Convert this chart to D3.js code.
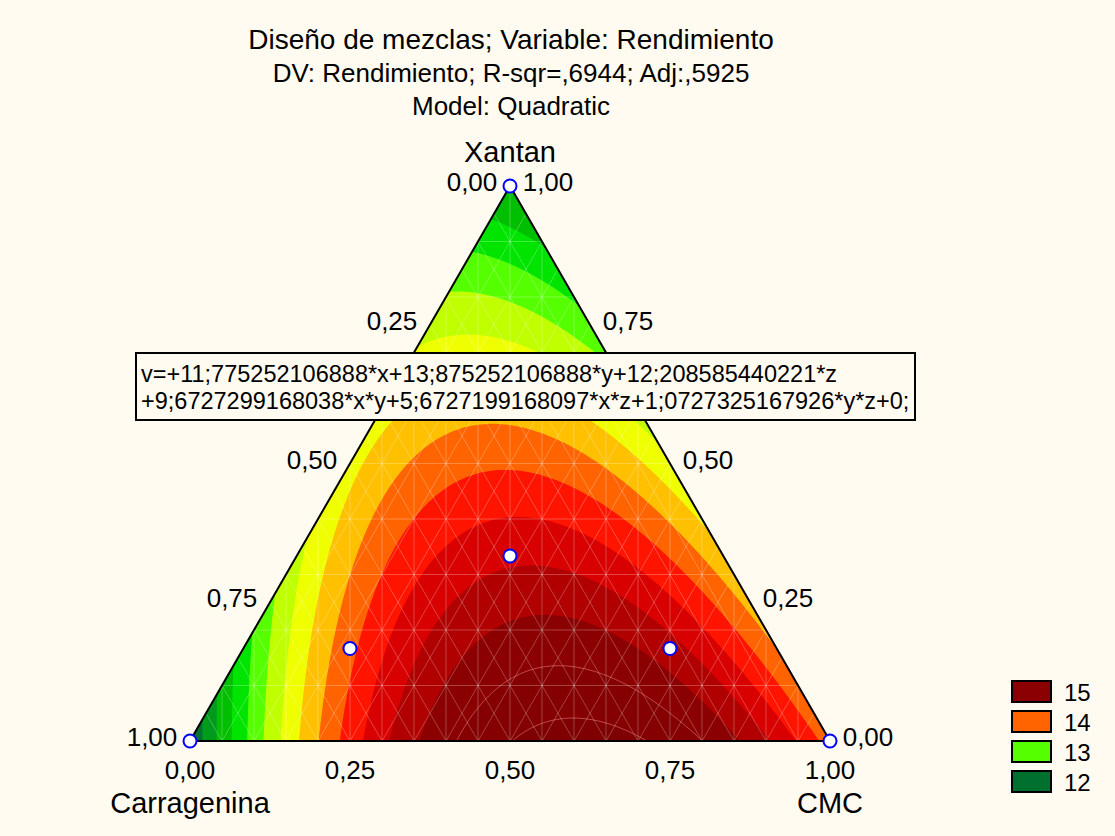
<!DOCTYPE html>
<html>
<head>
<meta charset="utf-8">
<script src="https://cdn.jsdelivr.net/npm/d3@7"></script>
<style>
  html, body { margin: 0; padding: 0; background: #fffbf0; }
  text { font-family: "Liberation Sans", Arial, sans-serif; fill: #000; }
</style>
</head>
<body>
<svg id="chart" width="1115" height="836"></svg>
<script>
// ---- chart content -------------------------------------------------------
const titleLines = [
  "Diseño de mezclas; Variable: Rendimiento",
  "DV: Rendimiento; R-sqr=,6944; Adj:,5925",
  "Model: Quadratic"
];
const titleSizes = [28, 26, 26];
const componentNames = ["Carragenina", "CMC", "Xantan"];   // x, y, z of the model

// Quadratic Scheffé model: v = b1*x + b2*y + b3*z + b12*x*y + b13*x*z + b23*y*z
const linearCoef = [11.775252106888, 13.875252106888, 12.208585440221];
const interactionCoef = [9.6727299168038, 5.6727199168097, 1.0727325167926]; // xy, xz, yz

const equationLines = [
  "v=+11;775252106888*x+13;875252106888*y+12;208585440221*z",
  "+9;6727299168038*x*y+5;6727199168097*x*z+1;0727325167926*y*z+0;"
];

// contour bands: lower limit of each band and its fill
const bandLower = [11.75, 12, 12.25, 12.5, 12.75, 13, 13.25, 13.5, 13.75, 14, 14.25, 14.5, 14.75, 15, 15.25];
const bandColors = ["#00702f", "#009a1c", "#00be00", "#00e400", "#55ff00", "#c0ff00", "#f0ff00",
                    "#ffc000", "#ff6400", "#ff1400", "#d80000", "#b00000", "#8b0000", "#850000", "#7e0000"];

const legendValues = [15, 14, 13, 12];
const legendColors = ["#8b0000", "#ff6400", "#55ff00", "#00702f"];

const tickValues = [0, 0.25, 0.5, 0.75, 1];
const tickFormat = v => v.toFixed(2).replace(".", ",");

// design points as [Carragenina, CMC, Xantan]
const designPoints = [
  [1, 0, 0], [0, 1, 0], [0, 0, 1],
  [1/3, 1/3, 1/3],
  [2/3, 1/6, 1/6], [1/6, 2/3, 1/6], [1/6, 1/6, 2/3]
];

// ---- geometry --------------------------------------------------------------
const svg = d3.select("#chart");
const sx = d3.scaleLinear().domain([0, 1]).range([190, 830]);   // CMC + Xantan/2
const sy = d3.scaleLinear().domain([0, 1]).range([741, 186]);   // Xantan
const project = (carr, cmc, xan) => [sx(cmc + xan / 2), sy(xan)];

function model(x, y, z) {
  return linearCoef[0] * x + linearCoef[1] * y + linearCoef[2] * z +
         interactionCoef[0] * x * y + interactionCoef[1] * x * z + interactionCoef[2] * y * z;
}

svg.append("rect").attr("width", 1115).attr("height", 836).attr("fill", "#fffbf0");

const corners = [project(1, 0, 0), project(0, 1, 0), project(0, 0, 1)];
svg.append("clipPath").attr("id", "tri")
  .append("polygon").attr("points", corners.map(p => p.join(",")).join(" "));

const plot = svg.append("g").attr("clip-path", "url(#tri)");

// ---- contour surface ---------------------------------------------------------
const step = 3;
const gx0 = sx(0) - 12, gy0 = sy(1) - 12;
const nx = Math.ceil((sx(1) - sx(0) + 24) / step) + 1;
const ny = Math.ceil((sy(0) - sy(1) + 24) / step) + 1;
const grid = new Array(nx * ny);
for (let j = 0; j < ny; j++) {
  for (let i = 0; i < nx; i++) {
    const px = gx0 + i * step, py = gy0 + j * step;
    const xan = sy.invert(py);
    const cmc = sx.invert(px) - xan / 2;
    const carr = 1 - cmc - xan;
    grid[j * nx + i] = model(carr, cmc, xan);
  }
}
const contours = d3.contours().size([nx, ny]).thresholds(bandLower.slice(1))(grid);
const path = d3.geoPath(d3.geoIdentity().scale(step).translate([gx0 - 0.5 * step, gy0 - 0.5 * step]));

plot.append("polygon")
  .attr("points", corners.map(p => p.join(",")).join(" "))
  .attr("fill", bandColors[0]);

plot.selectAll("path.band").data(contours).join("path")
  .attr("class", "band")
  .attr("d", path)
  .attr("fill", d => bandColors[bandLower.indexOf(d.value)])
  .attr("stroke", d => d.value >= 15 ? "rgba(255,160,160,0.45)" : "none")
  .attr("stroke-width", 1);

// ---- faint triangulation mesh ------------------------------------------------
const mesh = plot.append("g").attr("stroke", "#fff").attr("stroke-opacity", 0.26).attr("stroke-width", 1);
const fine = d3.range(1, 20).map(k => k / 20);
fine.forEach(f => {
  mesh.append("line").attr("x1", sx(f)).attr("x2", sx(f)).attr("y1", sy(0)).attr("y2", sy(1));
  mesh.append("line").attr("x1", sx(f)).attr("y1", sy(0)).attr("x2", sx(f + 0.5)).attr("y2", sy(1));
  mesh.append("line").attr("x1", sx(f)).attr("y1", sy(0)).attr("x2", sx(f - 0.5)).attr("y2", sy(1));
});
d3.range(1, 10).map(k => k / 10).forEach(f => {
  mesh.append("line").attr("x1", sx(0)).attr("x2", sx(1)).attr("y1", sy(f)).attr("y2", sy(f));
});

// ---- triangle outline --------------------------------------------------------
svg.append("polygon")
  .attr("points", corners.map(p => p.join(",")).join(" "))
  .attr("fill", "none").attr("stroke", "#000").attr("stroke-width", 2)
  .attr("stroke-linejoin", "miter");

// ---- design points -------------------------------------------------------------
svg.selectAll("circle.pt").data(designPoints).join("circle")
  .attr("class", "pt")
  .attr("cx", d => project(...d)[0])
  .attr("cy", d => project(...d)[1])
  .attr("r", 6.5)
  .attr("fill", "#fff").attr("stroke", "#0000ff").attr("stroke-width", 2);

// ---- equation box --------------------------------------------------------------
svg.append("rect").attr("x", 136).attr("y", 353).attr("width", 779).attr("height", 67)
  .attr("fill", "#fffbf0").attr("stroke", "#000").attr("stroke-width", 2);
svg.selectAll("text.eq").data(equationLines).join("text")
  .attr("class", "eq")
  .attr("x", 141).attr("y", (d, i) => 382 + i * 27)
  .attr("font-size", 23.5)
  .text(d => d);

// ---- titles --------------------------------------------------------------------
svg.selectAll("text.title").data(titleLines).join("text")
  .attr("class", "title")
  .attr("x", 511).attr("y", (d, i) => 49 + i * 33)
  .attr("text-anchor", "middle").attr("font-size", (d, i) => titleSizes[i])
  .text(d => d);

// ---- tick labels -----------------------------------------------------------------
const tickSize = 26;
// left side: Carragenina fraction
svg.selectAll("text.tl").data(tickValues).join("text")
  .attr("class", "tl")
  .attr("x", d => project(d, 0, 1 - d)[0] - 38)
  .attr("y", d => project(d, 0, 1 - d)[1] - 4)
  .attr("dominant-baseline", "central").attr("text-anchor", "middle")
  .attr("font-size", tickSize).text(tickFormat);
// right side: Xantan fraction
svg.selectAll("text.tr").data(tickValues).join("text")
  .attr("class", "tr")
  .attr("x", d => project(0, 1 - d, d)[0] + 38)
  .attr("y", d => project(0, 1 - d, d)[1] - 4)
  .attr("dominant-baseline", "central").attr("text-anchor", "middle")
  .attr("font-size", tickSize).text(tickFormat);
// bottom side: CMC fraction
svg.selectAll("text.tb").data(tickValues).join("text")
  .attr("class", "tb")
  .attr("x", d => project(1 - d, d, 0)[0])
  .attr("y", sy(0) + 29)
  .attr("dominant-baseline", "central").attr("text-anchor", "middle")
  .attr("font-size", tickSize).text(tickFormat);

// ---- component names ------------------------------------------------------------
const nameSize = 29;
svg.append("text").attr("x", corners[2][0]).attr("y", corners[2][1] - 34)
  .attr("dominant-baseline", "central").attr("text-anchor", "middle")
  .attr("font-size", nameSize).text(componentNames[2]);
svg.append("text").attr("x", corners[0][0]).attr("y", corners[0][1] + 62)
  .attr("dominant-baseline", "central").attr("text-anchor", "middle")
  .attr("font-size", nameSize).text(componentNames[0]);
svg.append("text").attr("x", corners[1][0]).attr("y", corners[1][1] + 62)
  .attr("dominant-baseline", "central").attr("text-anchor", "middle")
  .attr("font-size", nameSize).text(componentNames[1]);

// ---- legend -----------------------------------------------------------------------
const legend = svg.append("g").attr("transform", "translate(1012,681)");
const item = legend.selectAll("g").data(legendValues).join("g")
  .attr("transform", (d, i) => `translate(0,${i * 30})`);
item.append("rect").attr("width", 39).attr("height", 21)
  .attr("fill", (d, i) => legendColors[i]).attr("stroke", "#000").attr("stroke-width", 2);
item.append("text").attr("x", 52).attr("y", 11)
  .attr("dominant-baseline", "central").attr("font-size", 24).text(d => d);
</script>
</body>
</html>
